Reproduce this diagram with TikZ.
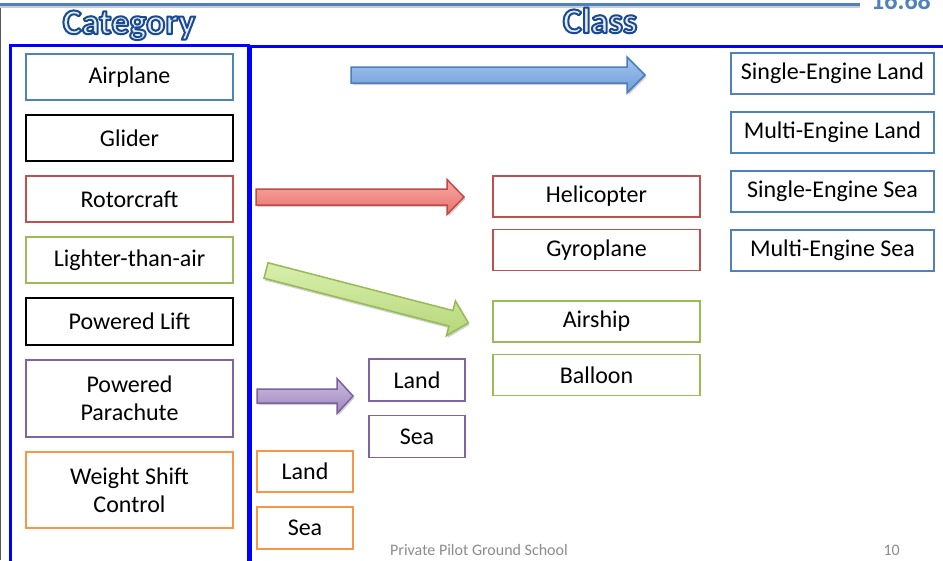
\documentclass[tikz,border=0pt]{standalone}
\usepackage{fontspec}
\setmainfont{Carlito}
\definecolor{cblue}{HTML}{4F81BD}
\definecolor{cred}{HTML}{C0504D}
\definecolor{cgreen}{HTML}{9BBB59}
\definecolor{cpurple}{HTML}{8064A2}
\definecolor{corange}{HTML}{F79646}
\definecolor{frameblue}{HTML}{0000FF}
\definecolor{hdrline}{HTML}{4F81BD}
\definecolor{hdrfill}{HTML}{E6EEF9}
\definecolor{foot}{HTML}{8C8C8C}
\definecolor{abluet}{HTML}{A3C4F0}\definecolor{ablueb}{HTML}{6E9DD8}\definecolor{abluel}{HTML}{4A7EBB}
\definecolor{aredt}{HTML}{F9A9A5}\definecolor{aredb}{HTML}{E8716C}\definecolor{aredl}{HTML}{BE4B48}
\definecolor{agreent}{HTML}{D9EFAD}\definecolor{agreenb}{HTML}{B5D77A}\definecolor{agreenl}{HTML}{98B954}
\definecolor{apurt}{HTML}{CDBDE0}\definecolor{apurb}{HTML}{9D87BB}\definecolor{apurl}{HTML}{7D60A0}
% outlined header text (fill = current colour, stroke = dark blue)
\newcommand{\outlinedtext}[1]{\special{pdf:literal direct 2 Tr 2 w 1 j 0.102 0.290 0.580 RG}#1\special{pdf:literal direct 0 Tr}}
% #1 shift, #2 rotate, #3 length, #4 shaft half, #5 head half, #6 head length, #7 top, #8 bottom, #9 line
\newcommand{\myblockarrow}[9]{%
  \begin{scope}[shift={#1}, rotate=#2]
    \fill[black, opacity=0.18] (1.5,{-#4+2}) -- ({#3-#6+1.5},{-#4+2}) -- ({#3-#6+1.5},{-#5+2}) -- ({#3+1.5},2) -- ({#3-#6+1.5},{#5+2}) -- ({#3-#6+1.5},{#4+2}) -- (1.5,{#4+2}) -- cycle;
    \path[draw=#9, line width=1.5pt, line join=miter, top color=#7, bottom color=#8]
      (0,-#4) -- ({#3-#6},-#4) -- ({#3-#6},-#5) -- (#3,0) -- ({#3-#6},#5) -- ({#3-#6},#4) -- (0,#4) -- cycle;
  \end{scope}}
\tikzset{
  box/.style={draw, line width=1.8pt, fill=white, minimum width=207pt, minimum height=46pt,
    inner sep=0pt, font=\fontsize{24}{28}\selectfont, align=center, text=black},
  small/.style={box, minimum width=96pt, minimum height=41pt},
  wide/.style={box, minimum width=203pt, minimum height=41pt},
  hdr/.style={anchor=base, font=\fontsize{36}{40}\selectfont\bfseries, text=hdrfill},
  frame/.style={draw=frameblue, line width=3pt},
}
\begin{document}
\begin{tikzpicture}[x=1pt, y=-1pt]
\path[use as bounding box, clip] (0,0) rectangle (943,560);
\fill[white] (0,0) rectangle (943,560);
% header
\draw[black!20, line width=2pt] (0,7) -- (860,7);
\draw[hdrline, line width=3pt] (0,4) -- (860,4);
\node[anchor=base west, text=hdrline, font=\fontsize{26}{30}\selectfont\bfseries, inner sep=0pt] (ver) at (871,9) {16.68};
\draw[black!65, line width=1.2pt] (0.6,8) -- (0.6,560);
\node[hdr] (cat) at (129,34) {\outlinedtext{Category}};
\node[hdr] (cls) at (600,33) {\outlinedtext{Class}};
% frames
\draw[frame] (250,575) -- (250,46) -- (950,46);
\draw[frame] (10,575) rectangle (248,45);
% category boxes
\node[box, draw=cblue] (airplane) at (129.5,77) {Airplane};
\node[box, draw=black] (glider) at (129.5,138) {Glider};
\node[box, draw=cred] (rotor) at (129.5,199) {Rotorcraft};
\node[box, draw=cgreen] (lta) at (129.5,260) {Lighter-than-air};
\node[box, draw=black, minimum height=47pt] (plift) at (129.5,321.5) {Powered Lift};
\node[box, draw=cpurple, minimum height=77pt] (ppc) at (129.5,398.5) {Powered\\Parachute};
\node[box, draw=corange, minimum height=76pt] (wsc) at (129.5,490) {Weight Shift\\Control};
% class boxes
\node[box, draw=cred, minimum height=41pt] (heli) at (596.5,196.5) {Helicopter};
\node[box, draw=cred, minimum height=41pt] (gyro) at (596.5,250) {Gyroplane};
\node[box, draw=cgreen, minimum height=41pt] (airship) at (596.5,321.5) {Airship};
\node[box, draw=cgreen, minimum height=41pt] (balloon) at (596.5,375) {Balloon};
\node[small, draw=cpurple, minimum height=42pt] (pland) at (417,380) {Land};
\node[small, draw=cpurple, minimum height=42pt] (psea) at (417,436.5) {Sea};
\node[small, draw=corange] (wland) at (305,471.5) {Land};
\node[small, draw=corange, minimum height=42pt] (wsea) at (305,528) {Sea};
\node[wide, draw=cblue] (sel) at (832.5,73.5) {Single-Engine Land};
\node[wide, draw=cblue] (mel) at (832.5,132.5) {Multi-Engine Land};
\node[wide, draw=cblue] (ses) at (832.5,191.5) {Single-Engine Sea};
\node[wide, draw=cblue] (mes) at (832.5,250.5) {Multi-Engine Sea};
% arrows
\myblockarrow{(351,75)}{0}{294}{8}{18}{18}{abluet}{ablueb}{abluel}
\myblockarrow{(256,197)}{0}{208}{8}{17.5}{17}{aredt}{aredb}{aredl}
\myblockarrow{(266,270.5)}{-14.5}{209}{8}{18}{18}{agreent}{agreenb}{agreenl}
\myblockarrow{(257,396)}{0}{96}{7}{17.5}{16}{apurt}{apurb}{apurl}
% footer
\node[anchor=base west, text=foot, font=\fontsize{16}{18}\selectfont, inner sep=0pt] (footer) at (390,555) {Private Pilot Ground School};
\node[anchor=base east, text=foot, font=\fontsize{16}{18}\selectfont, inner sep=0pt] (pnum) at (900,555) {10};
\end{tikzpicture}
\end{document}
